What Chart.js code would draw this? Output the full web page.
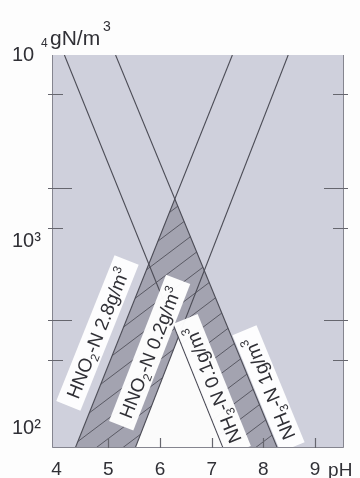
<!DOCTYPE html>
<html>
<head>
<meta charset="utf-8">
<script src="https://cdn.jsdelivr.net/npm/chart.js@4.4.1/dist/chart.umd.min.js"></script>
<style>
  html, body { margin: 0; padding: 0; background: #fdfdfd; }
  #wrap { position: relative; width: 360px; height: 478px; }
</style>
</head>
<body>
<div id="wrap"><canvas id="c" width="360" height="478"></canvas></div>
<script>
// pH axis
const phTicks = [4, 5, 6, 7, 8, 9];
const phRange = [3.91, 9.56];

// concentration axis, gN/m3 (log)
const concRange = [79, 10000];
const concDecades = [100, 1000, 10000];
const concMarks = [6200, 1950, 1190, 383, 234];

// iso-concentration lines: pH where each line meets the top and the bottom of the plot
const lineNames  = ['HNO2-N 2.8g/m3', 'HNO2-N 0.2g/m3', 'NH3-N 0.1g/m3', 'NH3-N 1g/m3'];
const phAtTop    = [7.40, 8.48, 4.15, 5.14];
const phAtBottom = [4.36, 5.52, 7.22, 8.27];

// line labels (_x = subscript, ^x = superscript) and their anchor points (pH, gN/m3)
const labelTexts = ['HNO_2-N 2.8g/m^3', 'HNO_2-N 0.2g/m^3', 'NH_3-N 0.1g/m^3', 'NH_3-N 1g/m^3'];
const labelPH    = [4.79, 5.80, 7.01, 8.10];
const labelConc  = [326, 256, 172, 164];

const FONT = "'Liberation Sans', Arimo, 'DejaVu Sans', sans-serif";
const INK = '#303036';

const COLORS = {
  plot: '#cfd0dc',
  band: '#a3a3b0',
  free: '#fbfbfb',
  line: '#4c4c56',
  hatch: '#5a5a64',
  frame: '#85858f',
  mark: '#66666e'
};

const lineDatasets = lineNames.map((name, i) => ({
  label: name,
  data: [{ x: phAtTop[i], y: concRange[1] }, { x: phAtBottom[i], y: concRange[0] }],
  showLine: true,
  borderColor: COLORS.line,
  borderWidth: 1.1,
  pointRadius: 0,
  fill: false
}));

function endPoints(chart, i) {
  const pts = chart.getDatasetMeta(i).data;
  return { top: { x: pts[0].x, y: pts[0].y }, bot: { x: pts[1].x, y: pts[1].y } };
}

function path(ctx, pts) {
  ctx.beginPath();
  ctx.moveTo(pts[0].x, pts[0].y);
  for (let k = 1; k < pts.length; k++) ctx.lineTo(pts[k].x, pts[k].y);
  ctx.closePath();
}

// zone shading: background, the free zone, the two inhibition bands with hatching
const zonesPlugin = {
  id: 'zones',
  beforeDatasetsDraw(chart) {
    const { ctx, chartArea: a } = chart;
    const [A, B, C, D] = [0, 1, 2, 3].map(i => endPoints(chart, i));
    const TL = { x: a.left, y: a.top }, TR = { x: a.right, y: a.top };
    const BL = { x: a.left, y: a.bottom }, BR = { x: a.right, y: a.bottom };
    const leftOf = L => [TL, L.top, L.bot, BL];
    const rightOf = L => [L.top, TR, BR, L.bot];
    const band = (L1, L2) => [L1.top, L2.top, L2.bot, L1.bot];

    ctx.save();
    ctx.fillStyle = COLORS.plot;
    ctx.fillRect(a.left, a.top, a.right - a.left, a.bottom - a.top);

    // free zone: right of HNO2 0.2 and left of NH3 0.1
    ctx.save();
    path(ctx, rightOf(B)); ctx.clip();
    path(ctx, leftOf(C)); ctx.fillStyle = COLORS.free; ctx.fill();
    ctx.restore();

    const regions = [
      { shape: band(A, B), clip: leftOf(D) },
      { shape: band(C, D), clip: rightOf(A) }
    ];
    const w = a.right - a.left;
    const rise = w * Math.tan(37 * Math.PI / 180);
    regions.forEach(r => {
      ctx.save();
      path(ctx, r.clip); ctx.clip();
      path(ctx, r.shape); ctx.fillStyle = COLORS.band; ctx.fill();
      ctx.clip();
      ctx.beginPath();
      for (let y0 = a.top + 6; y0 <= a.bottom + rise; y0 += 20) {
        ctx.moveTo(a.left, y0);
        ctx.lineTo(a.right, y0 - rise);
      }
      ctx.strokeStyle = COLORS.hatch;
      ctx.lineWidth = 1;
      ctx.stroke();
      ctx.restore();
    });
    ctx.restore();
  }
};

function parseRich(s) {
  const out = [];
  let buf = '';
  for (let k = 0; k < s.length; k++) {
    const ch = s[k];
    if ((ch === '_' || ch === '^') && k + 1 < s.length) {
      if (buf) { out.push({ t: buf, m: 'n' }); buf = ''; }
      out.push({ t: s[k + 1], m: ch === '_' ? 'sub' : 'sup' });
      k++;
    } else buf += ch;
  }
  if (buf) out.push({ t: buf, m: 'n' });
  return out;
}

const BIG = 19, SMALL = 12;
function pieceFont(m) { return (m === 'n' ? BIG : SMALL) + 'px ' + FONT; }

// white label boxes along the lines, plus frame, inner tick marks and units
const decorPlugin = {
  id: 'decor',
  afterDatasetsDraw(chart) {
    const { ctx, chartArea: a, scales: { x: xs, y: ys } } = chart;

    // labels
    ctx.save();
    ctx.beginPath();
    ctx.rect(a.left, a.top, a.right - a.left, a.bottom - a.top);
    ctx.clip();
    labelTexts.forEach((txt, i) => {
      const L = endPoints(chart, i);
      const ang = Math.atan2(L.top.y - L.bot.y, L.top.x - L.bot.x);
      const cx = xs.getPixelForValue(labelPH[i]);
      const cy = ys.getPixelForValue(labelConc[i]);
      const pieces = parseRich(txt);
      let total = 0;
      pieces.forEach(p => { ctx.font = pieceFont(p.m); p.w = ctx.measureText(p.t).width; total += p.w; });
      ctx.save();
      ctx.translate(cx, cy);
      ctx.rotate(ang);
      ctx.fillStyle = 'rgba(255,255,255,0.96)';
      ctx.fillRect(-total / 2 - 9, -13, total + 18, 26);
      let px = -total / 2;
      ctx.fillStyle = INK;
      ctx.textBaseline = 'alphabetic';
      pieces.forEach(p => {
        ctx.font = pieceFont(p.m);
        const dy = p.m === 'sub' ? 4 : p.m === 'sup' ? -8 : 0;
        ctx.fillText(p.t, px, 7 + dy);
        px += p.w;
      });
      ctx.restore();
    });
    ctx.restore();

    // frame
    ctx.save();
    ctx.strokeStyle = COLORS.frame;
    ctx.lineWidth = 1;
    ctx.beginPath();
    ctx.moveTo(a.left + 0.5, a.top);
    ctx.lineTo(a.left + 0.5, a.bottom - 0.5);
    ctx.lineTo(a.right - 0.5, a.bottom - 0.5);
    ctx.lineTo(a.right - 0.5, a.top);
    ctx.stroke();

    // tick marks on both sides and along the pH axis
    ctx.strokeStyle = COLORS.mark;
    ctx.lineWidth = 1.2;
    ctx.beginPath();
    concMarks.forEach((v, k) => {
      const y = Math.round(ys.getPixelForValue(v)) + 0.5;
      const inner = k % 2 === 1 ? 20 : 11;
      ctx.moveTo(a.left - 4, y); ctx.lineTo(a.left + inner, y);
      ctx.moveTo(a.right - inner, y); ctx.lineTo(a.right + 4, y);
    });
    phTicks.forEach(v => {
      if (v <= phRange[0] + 0.2) return;
      const x = Math.round(xs.getPixelForValue(v)) + 0.5;
      ctx.moveTo(x, a.bottom); ctx.lineTo(x, a.bottom - 10);
    });
    ctx.stroke();

    // unit texts
    ctx.fillStyle = INK;
    ctx.textBaseline = 'alphabetic';
    ctx.textAlign = 'left';
    ctx.font = SMALL + 'px ' + FONT;
    ctx.fillText('4', 41, 47);
    ctx.font = '21px ' + FONT;
    ctx.fillText('gN/m', 50, 45);
    ctx.font = '14px ' + FONT;
    ctx.fillText('3', 103, 31);
    ctx.font = BIG + 'px ' + FONT;
    ctx.textBaseline = 'middle';
    ctx.fillText('pH', xs.getPixelForValue(9) + 13, 471);
    ctx.restore();
  }
};

new Chart(document.getElementById('c'), {
  type: 'scatter',
  data: { datasets: lineDatasets },
  options: {
    responsive: false,
    animation: false,
    events: [],
    layout: { padding: { left: 12, top: 55, right: 16, bottom: 0 } },
    plugins: { legend: { display: false }, tooltip: { enabled: false } },
    scales: {
      x: {
        type: 'linear',
        min: phRange[0],
        max: phRange[1],
        afterBuildTicks: s => { s.ticks = phTicks.map(v => ({ value: v })); },
        afterFit: s => { s.height = 30; },
        grid: { display: false, drawTicks: false },
        border: { display: false },
        ticks: {
          color: INK,
          font: { family: FONT, size: BIG },
          padding: 10,
          maxRotation: 0,
          autoSkip: false,
          callback: v => String(v)
        }
      },
      y: {
        type: 'logarithmic',
        min: concRange[0],
        max: concRange[1],
        afterBuildTicks: s => { s.ticks = concDecades.map(v => ({ value: v })); },
        afterFit: s => { s.width = 40; },
        grid: { display: false, drawTicks: false },
        border: { display: false },
        ticks: {
          color: INK,
          font: { family: FONT, size: 20 },
          crossAlign: 'far',
          autoSkip: false,
          callback: v => v === 10000 ? '10' : v === 1000 ? '10\u00B3' : v === 100 ? '10\u00B2' : ''
        }
      }
    }
  },
  plugins: [zonesPlugin, decorPlugin]
});
</script>
</body>
</html>
